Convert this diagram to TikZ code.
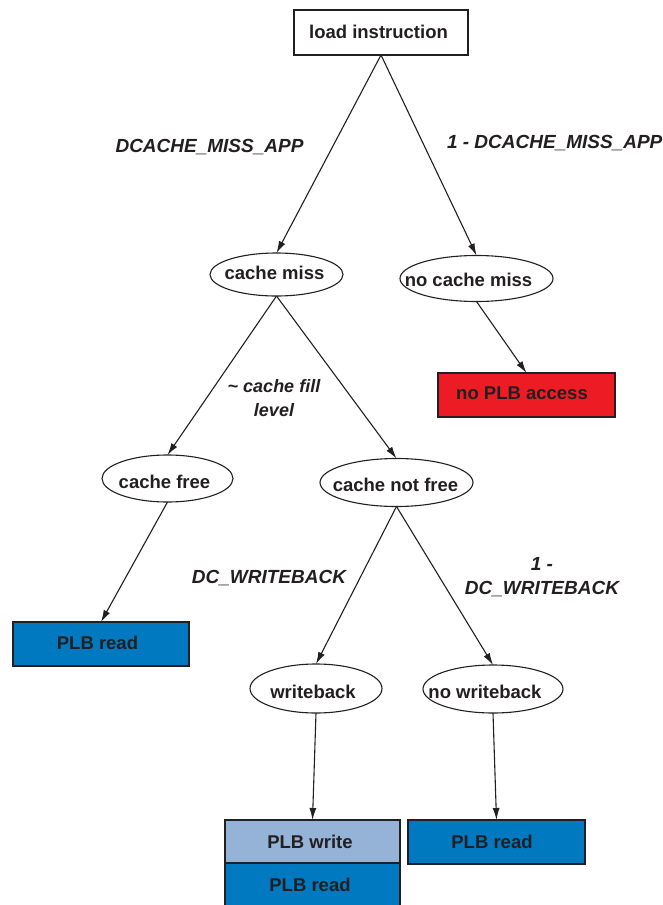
\documentclass[tikz,border=0pt]{standalone}
\usepackage{fontspec}
\setmainfont{Liberation Sans}
\usetikzlibrary{shapes.geometric,arrows.meta}
\definecolor{ink}{HTML}{231F20}
\definecolor{plbred}{HTML}{ED1C24}
\definecolor{plbblue}{HTML}{0079C1}
\definecolor{plblight}{HTML}{95B3D7}
\begin{document}
\begin{tikzpicture}[x=1pt,y=-1pt,
  every node/.style={inner sep=0pt, outer sep=0pt, text=ink},
  txt/.style={font=\fontsize{18.5}{22}\selectfont\bfseries},
  lbl/.style={font=\fontsize{19}{24}\selectfont\bfseries\itshape, align=center},
  box/.style={draw=ink, line width=1.1pt, rectangle},
  oval/.style={draw=ink, line width=1.1pt, ellipse},
  arr/.style={draw=ink, line width=1.1pt, -{Latex[length=12pt,width=7pt]}}]
\useasboundingbox (0,0) rectangle (663,905);

% root
\node[box, minimum width=174pt, minimum height=45pt] (load) at (381,32.5) {};
\node[txt] (loadT) at (378.5,32) {load instruction};

% first level
\node[oval, minimum width=133pt, minimum height=43pt] (cm) at (276.5,274.5) {};
\node[txt] (cmT) at (274.5,273) {cache miss};
\node[oval, minimum width=153pt, minimum height=46pt] (ncm) at (476.5,278.5) {};
\node[txt] (ncmT) at (468.5,280) {no cache miss};

\node[box, fill=plbred, minimum width=177pt, minimum height=44pt] (nopb) at (526.5,395) {};
\node[txt] (nopbT) at (522,393) {no PLB access};

% second level
\node[oval, minimum width=131pt, minimum height=47pt] (cf) at (167.5,478.5) {};
\node[txt] (cfT) at (164.5,482) {cache free};
\node[oval, minimum width=153pt, minimum height=48pt] (cnf) at (396.5,482.5) {};
\node[txt] (cnfT) at (395.5,485) {cache not free};

\node[box, fill=plbblue, minimum width=176pt, minimum height=44pt] (rd1) at (101,644) {};
\node[txt] (rd1T) at (97.5,643) {PLB read};

% third level
\node[oval, minimum width=132pt, minimum height=49pt] (wb) at (316,688.5) {};
\node[txt] (wbT) at (313,692) {writeback};
\node[oval, minimum width=140pt, minimum height=48pt] (nwb) at (493,689) {};
\node[txt] (nwbT) at (485,692) {no writeback};

% leaves
\node[box, fill=plblight, minimum width=175pt, minimum height=43pt] (wr) at (312.5,841.5) {};
\node[txt] (wrT) at (310,842) {PLB write};
\node[box, fill=plbblue, minimum width=175pt, minimum height=46pt] (rd2) at (312.5,886) {};
\node[txt] (rd2T) at (310,885) {PLB read};
\node[box, fill=plbblue, minimum width=177pt, minimum height=44pt] (rd3) at (496.5,842) {};
\node[txt] (rd3T) at (492,842) {PLB read};

% edge probabilities
\node[lbl] (pMiss) at (209.5,147) {DCACHE\_MISS\_APP};
\node[lbl, anchor=west] (pHit) at (447,143) {1 - DCACHE\_MISS\_APP};
\node[lbl, font=\fontsize{18}{24}\selectfont\bfseries\itshape] (pFill) at (274,398) {\textasciitilde{} cache fill\\level};
\node[lbl] (pWb) at (269,578) {DC\_WRITEBACK};
\node[lbl] (pNwb) at (542,577) {1 -\\DC\_WRITEBACK};

% connectors
\draw[arr] (load.south) -- (cm.north);
\draw[arr] (load.south) -- (ncm.north);
\draw[arr] (ncm.south) -- (nopb.north);
\draw[arr] (cm.south) -- (cf.north);
\draw[arr] (cm.south) -- (cnf.north);
\draw[arr] (cf.south) -- (rd1.north);
\draw[arr] (cnf.south) -- (wb.north);
\draw[arr] (cnf.south) -- (nwb.north);
\draw[arr] (wb.south) -- (wr.north);
\draw[arr] (nwb.south) -- (rd3.north);
\end{tikzpicture}
\end{document}
